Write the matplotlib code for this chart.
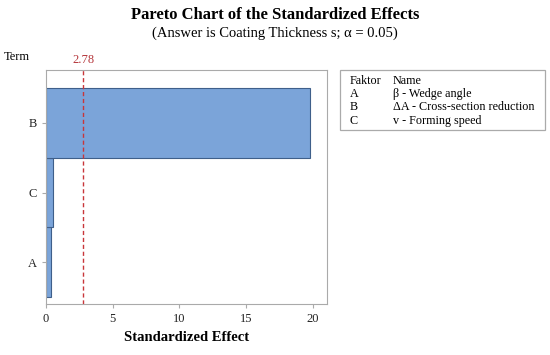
import matplotlib.pyplot as plt
from matplotlib.patches import Rectangle

terms = ['A', 'C', 'B']
effects = [0.35, 0.5, 19.8]
critical = 2.78
factors = ['A', 'B', 'C']
factor_names = ['\u03b2 - Wedge angle', '\u0394A - Cross-section reduction', 'v - Forming speed']

plt.rcParams['font.family'] = ['Liberation Serif', 'DejaVu Serif']

fig = plt.figure(figsize=(5.5, 3.55), dpi=100)
ax = fig.add_axes([46 / 550, 1 - 304 / 355, 281 / 550, 234 / 355])

ax.barh(range(len(terms)), effects, height=1.0, color='#7ba4d9', edgecolor='#3f5f8a', linewidth=0.8)
ax.axvline(critical, color='#c8363a', linestyle='--', linewidth=1.0, dashes=(3, 2))
ax.text(critical, 2.82, f'{critical:.2f}', color='#b5353a', ha='center', va='bottom', fontsize=9)

ax.set_xlim(0, 21.05)
ax.set_ylim(-0.6, 2.76)
ax.set_yticks(range(len(terms)))
ax.set_yticklabels(terms)
ax.set_xticks([0, 5, 10, 15, 20])
for s in ax.spines.values():
    s.set_color('#aaaaaa')
ax.tick_params(colors='#aaaaaa', labelcolor='#222222', labelsize=9, length=3)
ax.set_xlabel('Standardized Effect', fontsize=10.5, fontweight='bold', labelpad=4)

fig.text(0.5, 1 - 15 / 355, 'Pareto Chart of the Standardized Effects', ha='center', va='center',
         fontsize=12, fontweight='bold')
fig.text(0.5, 1 - 33 / 355, '(Answer is Coating Thickness s; \u03b1 = 0.05)', ha='center', va='center',
         fontsize=10.5)
fig.text(4 / 550, 1 - 57 / 355, 'Term', ha='left', va='center', fontsize=9)

# legend table box
fig.patches.append(Rectangle((340 / 550, 1 - 130 / 355), 205 / 550, 60 / 355, transform=fig.transFigure,
                             fill=False, edgecolor='#aaaaaa', linewidth=0.9))
rows = [('Faktor', 'Name')] + list(zip(factors, factor_names))
for i, (f, n) in enumerate(rows):
    y = 1 - (81 + i * 13.2) / 355
    fig.text(350 / 550, y, f, ha='left', va='center', fontsize=8.7)
    fig.text(393 / 550, y, n, ha='left', va='center', fontsize=8.7)

plt.savefig('out.png', dpi=100)
